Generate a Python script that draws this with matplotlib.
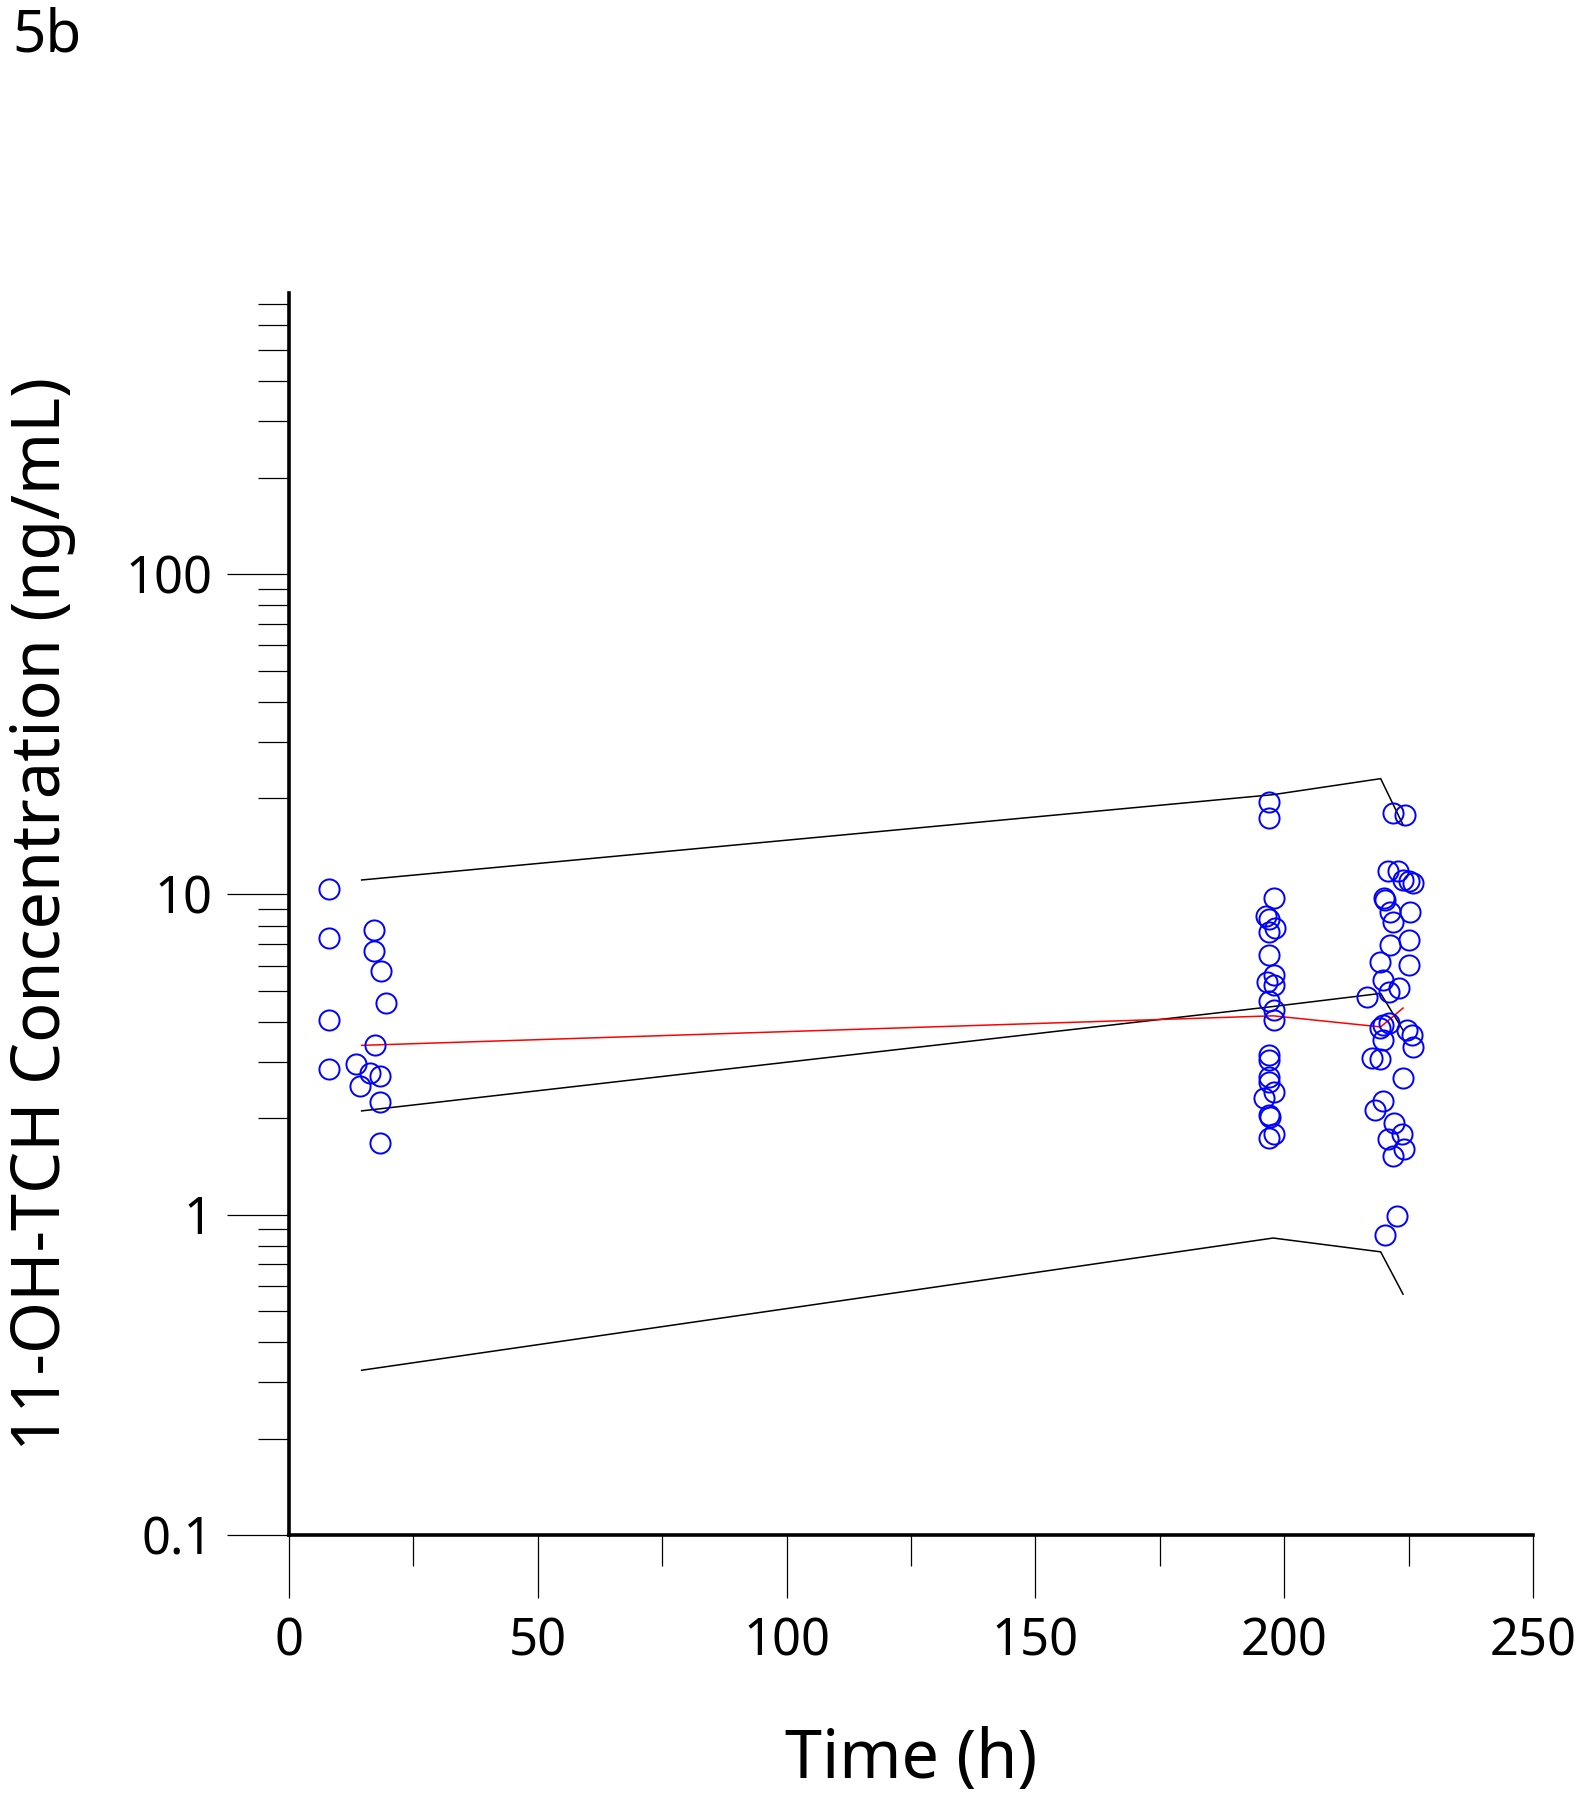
import matplotlib
matplotlib.use("Agg")
import matplotlib.pyplot as plt
from matplotlib.ticker import MultipleLocator, LogLocator, NullFormatter, FixedLocator

plt.rcParams['font.family'] = ['Noto Sans', 'DejaVu Sans']

# observed concentrations (time in h, conc in ng/mL)
obs_time = [8.0, 8.0, 8.0, 8.0, 17.1, 17.0, 18.5, 19.4, 17.3, 13.5, 16.3, 18.3, 14.3, 18.3, 18.3,
            197.0, 197.0, 198.0, 196.3, 197.0, 198.1, 197.0, 197.0, 198.0, 196.6, 198.0, 197.0,
            198.0, 198.0, 197.0, 197.0, 197.0, 197.0, 198.0, 196.0, 197.0, 197.2, 198.0, 197.0,
            221.9, 224.3, 220.8, 222.9, 223.9, 226.0, 225.0, 220.1, 220.2, 221.2, 225.3, 221.8,
            221.2, 225.0, 219.2, 225.0, 219.8, 223.1, 221.1, 216.7, 219.8, 221.1, 219.2, 224.6,
            225.6, 219.8, 226.0, 217.6, 219.2, 223.8, 219.9, 218.2, 222.1, 223.7, 220.9, 224.1,
            221.9, 222.7, 220.2]
obs_conc = [10.4, 7.31, 4.07, 2.85, 7.73, 6.65, 5.75, 4.58, 3.40, 2.96, 2.77, 2.71, 2.53, 2.25, 1.67,
            19.4, 17.3, 9.78, 8.57, 8.41, 7.84, 7.64, 6.49, 5.60, 5.33, 5.21, 4.65,
            4.35, 4.07, 3.15, 3.04, 2.69, 2.60, 2.41, 2.32, 2.05, 2.02, 1.79, 1.74,
            18.0, 17.7, 11.8, 11.8, 11.1, 10.9, 11.0, 9.78, 9.6, 8.82, 8.82, 8.21,
            6.94, 7.23, 6.16, 6.04, 5.40, 5.11, 4.96, 4.79, 3.91, 3.97, 3.84, 3.77,
            3.64, 3.52, 3.34, 3.09, 3.07, 2.67, 2.26, 2.13, 1.93, 1.79, 1.73, 1.61,
            1.53, 0.99, 0.864]

# binned percentiles
bin_time = [14.6, 197.8, 219.4, 223.9]
pred_p95 = [11.1, 20.5, 23.0, 16.5]
pred_p50 = [2.11, 4.47, 4.91, 3.77]
pred_p05 = [0.327, 0.846, 0.766, 0.565]
obs_median = [3.38, 4.18, 3.86, 4.42]

fig = plt.figure(figsize=(15.8, 18), dpi=100)
ax = fig.add_axes([0.1829, 0.1472, 0.7873, 0.690])

ax.plot(bin_time, pred_p95, color='black', lw=1.1)
ax.plot(bin_time, pred_p50, color='black', lw=1.1)
ax.plot(bin_time, pred_p05, color='black', lw=1.1)
ax.plot(bin_time, obs_median, color='red', lw=1.1)
ax.plot(obs_time, obs_conc, linestyle='none', marker='o', ms=14.5,
        markerfacecolor='none', markeredgecolor='#0000ff', markeredgewidth=1.4)

ax.set_yscale('log')
ax.set_xlim(0, 250)
ax.set_ylim(0.1, 755)

# axis styling
for side in ['top', 'right']:
    ax.spines[side].set_visible(False)
for side in ['left', 'bottom']:
    ax.spines[side].set_linewidth(2.6)

ax.xaxis.set_major_locator(MultipleLocator(50))
ax.xaxis.set_minor_locator(MultipleLocator(25))
ax.yaxis.set_major_locator(FixedLocator([0.1, 1, 10, 100]))
ax.yaxis.set_minor_locator(LogLocator(base=10, subs=range(2, 10)))
ax.yaxis.set_minor_formatter(NullFormatter())
ax.set_yticklabels(['0.1', '1', '10', '100'])

ax.tick_params(axis='both', which='major', length=45, width=0.9, labelsize=36.5, pad=10)
ax.tick_params(axis='both', which='minor', length=22, width=0.9)
ax.tick_params(axis='x', which='major', pad=14)

fig.text(911 / 1580, 0.012, 'Time (h)', ha='center', va='baseline', fontsize=48)
fig.text(42 / 1580, 1 - 914 / 1800, '11-OH-TCH Concentration (ng/mL)', rotation=90,
         ha='center', va='center', fontsize=48)
fig.text(12 / 1580, 1 - 52 / 1800, '5b', ha='left', va='baseline', fontsize=42)

plt.savefig('out.png', dpi=100)
plt.close()
